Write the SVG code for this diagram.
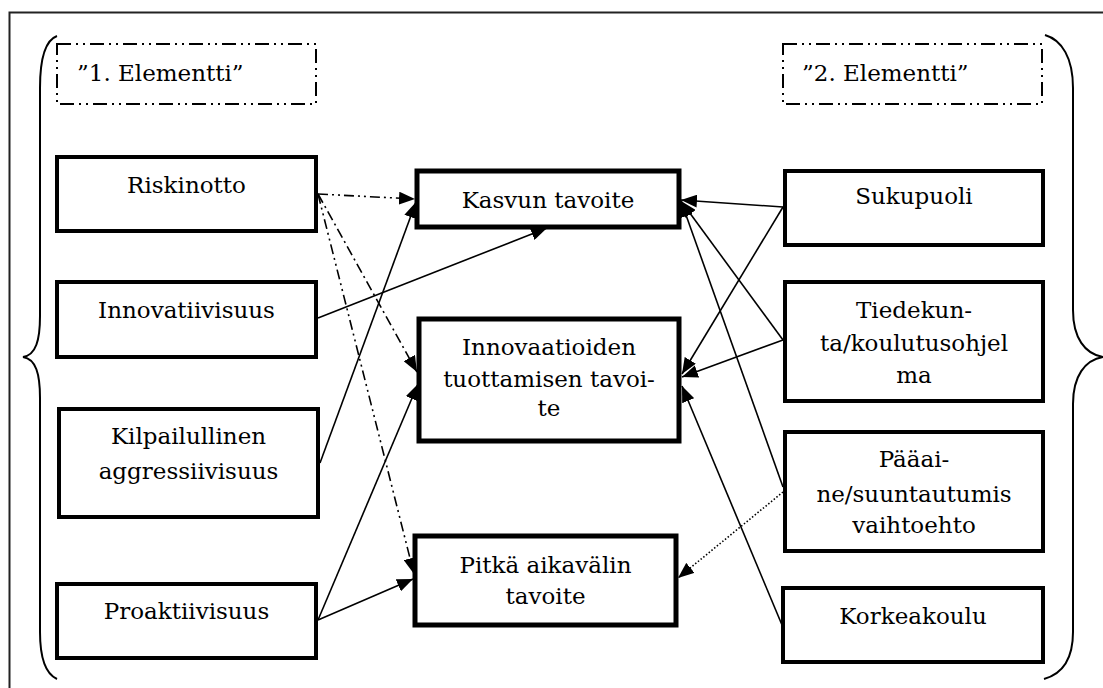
<svg xmlns="http://www.w3.org/2000/svg" width="1103" height="688" viewBox="0 0 1103 688">
  <style>
    text { font-family: "DejaVu Serif", "Liberation Serif", serif; font-size: 23px; fill: #000; }
    .c { text-anchor: middle; }
    .node { fill: #fff; stroke: #000; stroke-width: 4; }
    .goal { fill: #fff; stroke: #000; stroke-width: 5; }
    .group { fill: none; stroke: #000; stroke-width: 2; stroke-dasharray: 14 5 2 5 2 5; }
    .brace { fill: none; stroke: #000; stroke-width: 2; }
    .edge { fill: none; stroke: #000; stroke-width: 1.6; marker-end: url(#arrow); }
    .dd { stroke-dasharray: 10 4 2 4 2 4; }
    .d1 { stroke-dasharray: 10 4 2 4; }
    .dot { stroke-dasharray: 1.5 2; }
  </style>
  <defs>
    <marker id="arrow" viewBox="0 0 16 13" refX="16" refY="6.5" markerWidth="16" markerHeight="13" markerUnits="userSpaceOnUse" orient="auto">
      <path d="M0,0 L16,6.5 L0,13 Z" fill="#000"/>
    </marker>
  </defs>

  <rect width="1103" height="688" fill="#fff"/>
  <!-- outer frame -->
  <rect x="9.5" y="12.5" width="1110" height="700" fill="none" stroke="#222" stroke-width="2"/>

  <!-- curly braces -->
  <path class="brace" d="M57,36 C46,40 40,58 40,88 L40,316 C40,340 36,355 23,357 C36,359 40,374 40,398 L40,632 C40,660 46,674 57,679"/>
  <path class="brace" d="M1045,35 C1062,40 1073,58 1073,88 L1073,310 C1073,338 1085,354 1103,357 C1085,360 1073,376 1073,404 L1073,632 C1073,660 1062,674 1044,679"/>

  <!-- element groups -->
  <g id="group1">
    <rect class="group" x="57" y="44" width="259" height="60"/>
    <text x="77" y="81">”1. Elementti”</text>
  </g>
  <g id="group2">
    <rect class="group" x="783" y="44" width="259" height="60"/>
    <text x="802" y="81">”2. Elementti”</text>
  </g>

  <!-- connectors -->
  <g id="connectors">
    <line class="edge dd" x1="318" y1="194" x2="415" y2="199"/>
    <line class="edge d1" x1="318" y1="194" x2="417" y2="372"/>
    <line class="edge dd" x1="318" y1="194" x2="414" y2="574"/>
    <line class="edge" x1="318" y1="318" x2="547" y2="228"/>
    <line class="edge" x1="320" y1="463" x2="416" y2="202"/>
    <line class="edge" x1="318" y1="620" x2="418" y2="384"/>
    <line class="edge" x1="318" y1="620" x2="413" y2="579"/>
    <line class="edge" x1="783" y1="207" x2="681" y2="200"/>
    <line class="edge" x1="783" y1="207" x2="682" y2="374"/>
    <line class="edge" x1="783" y1="340" x2="681" y2="201"/>
    <line class="edge" x1="783" y1="340" x2="682" y2="377"/>
    <line class="edge" x1="783" y1="487" x2="681" y2="201"/>
    <line class="edge dot" x1="783" y1="492" x2="678" y2="578"/>
    <line class="edge" x1="782" y1="625" x2="682" y2="386"/>
  </g>

  <!-- first element -->
  <g id="riskinotto">
    <rect class="node" x="57" y="157" width="259" height="74"/>
    <text class="c" x="186.5" y="193">Riskinotto</text>
  </g>
  <g id="innovatiivisuus">
    <rect class="node" x="57" y="282" width="259" height="75"/>
    <text class="c" x="186.5" y="318">Innovatiivisuus</text>
  </g>
  <g id="kilpailullinen">
    <rect class="node" x="59" y="409" width="259" height="108"/>
    <text class="c" x="188.5" y="444">Kilpailullinen</text>
    <text class="c" x="188.5" y="479">aggressiivisuus</text>
  </g>
  <g id="proaktiivisuus">
    <rect class="node" x="57" y="584" width="259" height="74"/>
    <text class="c" x="186.5" y="619">Proaktiivisuus</text>
  </g>

  <!-- goals -->
  <g id="kasvu">
    <rect class="goal" x="417" y="171" width="262" height="56"/>
    <text class="c" x="548" y="208">Kasvun tavoite</text>
  </g>
  <g id="innovaatiot">
    <rect class="goal" x="419" y="319" width="260" height="122"/>
    <text class="c" x="549" y="355">Innovaatioiden</text>
    <text class="c" x="549" y="387">tuottamisen tavoi-</text>
    <text class="c" x="549" y="416">te</text>
  </g>
  <g id="pitka">
    <rect class="goal" x="415" y="536" width="261" height="89"/>
    <text class="c" x="545.5" y="573">Pitkä aikavälin</text>
    <text class="c" x="545.5" y="604">tavoite</text>
  </g>

  <!-- second element -->
  <g id="sukupuoli">
    <rect class="node" x="785" y="171" width="258" height="74"/>
    <text class="c" x="914" y="204">Sukupuoli</text>
  </g>
  <g id="tiedekunta">
    <rect class="node" x="785" y="282" width="258" height="119"/>
    <text class="c" x="914" y="318">Tiedekun-</text>
    <text class="c" x="914" y="351">ta/koulutusohjel</text>
    <text class="c" x="914" y="383">ma</text>
  </g>
  <g id="paaaine">
    <rect class="node" x="785" y="432" width="258" height="119"/>
    <text class="c" x="914" y="467">Pääai-</text>
    <text class="c" x="914" y="502">ne/suuntautumis</text>
    <text class="c" x="914" y="533">vaihtoehto</text>
  </g>
  <g id="korkeakoulu">
    <rect class="node" x="783" y="588" width="260" height="74"/>
    <text class="c" x="913" y="624">Korkeakoulu</text>
  </g>
</svg>
